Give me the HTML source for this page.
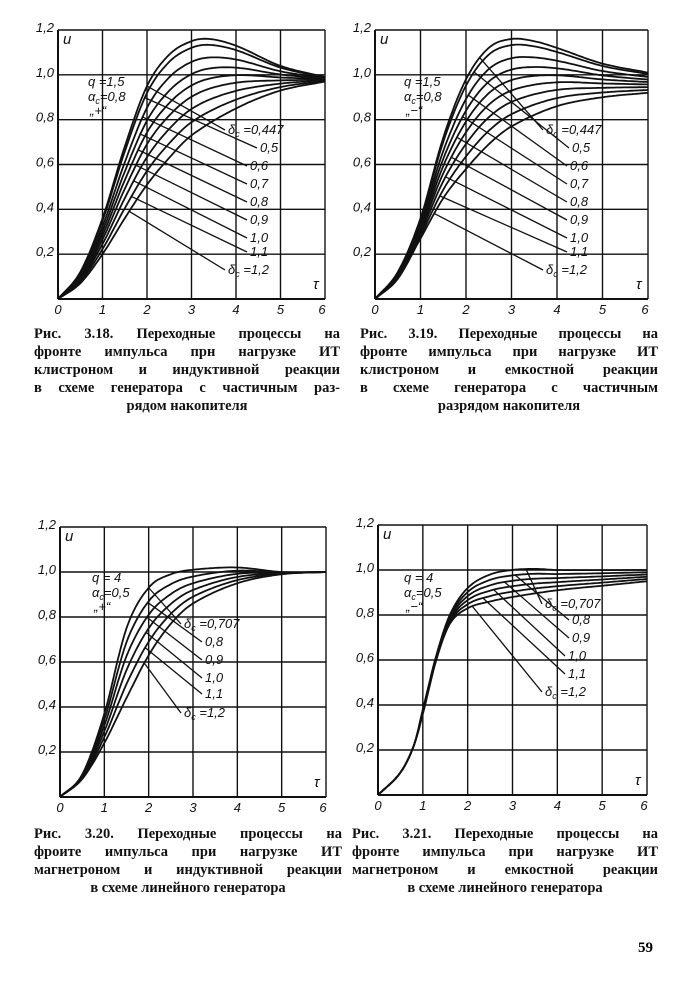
<!DOCTYPE html>
<html><head><meta charset="utf-8"><style>
body{margin:0;background:#fff;width:675px;height:1000px;overflow:hidden;position:relative;font-family:"Liberation Serif",serif;}
.cap{position:absolute;font-size:14.5px;line-height:18px;color:#111;font-weight:bold;}
.cap div{text-align:justify;text-align-last:justify;white-space:nowrap;}
.cap div.l{text-align:center;text-align-last:center;}
svg{position:absolute;left:0;top:0}
</style></head><body>
<svg id="s" width="675" height="1000" viewBox="0 0 675 1000"></svg>
<div class="cap" style="left:34px;top:325px;width:306px"><div>Рис. 3.18. Переходные процессы на</div><div>фронте импульса прн нагрузке ИТ</div><div>клистроном и индуктивной реакции</div><div>в схеме генератора с частичным раз-</div><div class="l">рядом накопителя</div></div>
<div class="cap" style="left:360px;top:325px;width:298px"><div>Рис. 3.19. Переходные процессы на</div><div>фронте импульса при нагрузке ИТ</div><div>клистроном и емкостной реакции</div><div>в схеме генератора с частичным</div><div class="l">разрядом накопителя</div></div>
<div class="cap" style="left:34px;top:825px;width:308px"><div>Рис. 3.20. Переходные процессы на</div><div>фроите импульса при нагрузке ИТ</div><div>магнетроном и индуктивной реакции</div><div class="l">в схеме линейного генератора</div></div>
<div class="cap" style="left:352px;top:825px;width:306px"><div>Рис. 3.21. Переходные процессы на</div><div>фронте импульса при нагрузке ИТ</div><div>магнетроном и емкостной реакции</div><div class="l">в схеме линейного генератора</div></div>
<div style="position:absolute;left:638px;top:940px;font-size:15px;font-weight:bold">59</div>
<script>
function interp(P,t){
 var n=P.length;
 for(var i=0;i<n-1;i++){ if(t<=P[i+1][0]||i==n-2){
  var p0=P[Math.max(i-1,0)],p1=P[i],p2=P[i+1],p3=P[Math.min(i+2,n-1)];
  var s=(t-p1[0])/(p2[0]-p1[0]);
  var m1=(p2[1]-p0[1])/(p2[0]-p0[0])*(p2[0]-p1[0]),m2=(p3[1]-p1[1])/(p3[0]-p1[0])*(p2[0]-p1[0]);
  var s2=s*s,s3=s2*s;
  return (2*s3-3*s2+1)*p1[1]+(s3-2*s2+s)*m1+(-2*s3+3*s2)*p2[1]+(s3-s2)*m2;
 }}
}
var S=document.getElementById('s'),out='';
function chart(c){
 var X=function(t){return c.x0+(c.x6-c.x0)*t/6},Y=function(u){return c.y0-(c.y0-c.y12)*u/1.2};
 var f=function(t,k){var w=c.w[k];return w*interp(c.top,t)+(1-w)*interp(c.bot,t);};
 var g='';
 for(var i=1;i<=6;i++) g+='<line x1="'+X(i)+'" y1="'+Y(0)+'" x2="'+X(i)+'" y2="'+Y(1.2)+'"/>';
 for(var j=1;j<=6;j++) g+='<line x1="'+X(0)+'" y1="'+Y(j*0.2)+'" x2="'+X(6)+'" y2="'+Y(j*0.2)+'"/>';
 out+='<g stroke="#111" stroke-width="1.4">'+g+'<line x1="'+X(0)+'" y1="'+Y(0)+'" x2="'+X(0)+'" y2="'+Y(1.2)+'" stroke-width="2"/><line x1="'+X(0)+'" y1="'+Y(0)+'" x2="'+X(6)+'" y2="'+Y(0)+'" stroke-width="2"/></g>';
 var ty='<g font-family="Liberation Sans,sans-serif" font-style="italic" font-size="13" fill="#111">';
 var yl=['0,2','0,4','0,6','0,8','1,0','1,2'];
 for(j=1;j<=6;j++) ty+='<text x="'+(X(0)-4)+'" y="'+(Y(j*0.2)+2)+'" text-anchor="end">'+yl[j-1]+'</text>';
 for(i=0;i<=6;i++) ty+='<text x="'+(X(i)-(i==6?3:0))+'" y="'+(Y(0)+15)+'" text-anchor="middle">'+i+'</text>';
 ty+='<text x="'+(X(0)+5)+'" y="'+(Y(1.2)+14)+'" font-size="15">u</text>';
 ty+='<text x="'+(X(6)-12)+'" y="'+(Y(0)-10)+'" font-size="15">τ</text>';
 ty+='<text x="'+c.px+'" y="'+c.py+'">q ='+c.q+'</text><text x="'+c.px+'" y="'+(c.py+15)+'">α<tspan font-size="9" dy="3">c</tspan><tspan dy="-3">='+c.a+'</tspan></text><text x="'+(c.px+2)+'" y="'+(c.py+29)+'">„'+c.sg+'“</text>';
 var p='';
 c.ds.forEach(function(d,k){
  var pts=[];
  for(var t=0;t<=6.001;t+=0.05){pts.push(X(t).toFixed(1)+','+Y(f(t,k)).toFixed(1));}
  p+='<polyline points="'+pts.join(' ')+'"/>';
  var ts=c.ts0+(c.ts1-c.ts0)*k/(c.ds.length-1);
  var L=c.lab[k];
  p+='<line x1="'+X(ts)+'" y1="'+Y(f(ts,k))+'" x2="'+(L[0]-3)+'" y2="'+(L[1]-4)+'" stroke-width="1.3"/>';
  var txt=(k==0||k==c.ds.length-1)?'δ<tspan font-size="9" dy="3">c</tspan><tspan dy="-3"> ='+d+'</tspan>':d;
  ty+='<text x="'+L[0]+'" y="'+L[1]+'">'+txt+'</text>';
 });
 out+='<g fill="none" stroke="#111" stroke-width="1.8">'+p+'</g>'+ty+'</g>';
}
var S1=['0,447','0,5','0,6','0,7','0,8','0,9','1,0','1,1','1,2'];
var S3=['0,707','0,8','0,9','1,0','1,1','1,2'];
var W1=[1,.93,.78,.65,.53,.41,.28,.14,0];
var W3=[1,.8,.6,.4,.2,0];
chart({x0:58,x6:325,y0:299,y12:30,w:W1,ds:S1,ts0:2.0,ts1:1.6,px:88,py:86,q:'1,5',a:'0,8',sg:'+',
 top:[[0,0],[0.5,0.12],[1,0.36],[1.5,0.68],[2,0.95],[2.5,1.09],[3,1.15],[3.4,1.16],[4,1.13],[5,1.04],[6,0.99]],
 bot:[[0,0],[0.5,0.07],[1,0.2],[1.5,0.36],[2,0.51],[2.5,0.63],[3,0.73],[4,0.85],[5,0.93],[6,0.97]],
 lab:[[228,134],[260,152],[250,170],[250,188],[250,206],[250,224],[250,242],[250,256],[228,274]]});
chart({x0:375,x6:648,y0:299,y12:30,w:W1,ds:S1,ts0:2.3,ts1:1.3,px:404,py:86,q:'1,5',a:'0,8',sg:'−',
 top:[[0,0],[0.5,0.12],[1,0.36],[1.5,0.72],[2,0.98],[2.5,1.12],[3,1.16],[3.5,1.15],[4,1.12],[5,1.05],[6,1.01]],
 bot:[[0,0],[0.5,0.09],[1,0.27],[1.5,0.45],[2,0.58],[2.5,0.69],[3,0.77],[4,0.86],[5,0.9],[6,0.92]],
 lab:[[546,134],[572,152],[570,170],[570,188],[570,206],[570,224],[570,242],[570,256],[546,274]]});
chart({x0:60,x6:326,y0:797,y12:527,w:W3,ds:S3,ts0:2.0,ts1:1.9,px:92,py:582,q:' 4',a:'0,5',sg:'+',
 top:[[0,0],[0.5,0.1],[1,0.37],[1.5,0.75],[2,0.93],[2.5,0.99],[3,1.01],[4,1.02],[5,1.0],[6,1.0]],
 bot:[[0,0],[0.5,0.08],[1,0.24],[1.5,0.44],[2,0.63],[2.5,0.77],[3,0.86],[4,0.95],[5,0.99],[6,1.0]],
 lab:[[184,628],[205,646],[205,664],[205,682],[205,698],[184,717]]});
chart({x0:378,x6:647,y0:795,y12:525,w:W3,ds:S3,ts0:3.3,ts1:2.1,px:404,py:582,q:' 4',a:'0,5',sg:'−',
 top:[[0,0],[0.5,0.1],[0.8,0.22],[1,0.38],[1.3,0.62],[1.6,0.8],[2,0.92],[2.5,0.98],[3,1.0],[3.5,1.005],[4,1.0],[6,1.0]],
 bot:[[0,0],[0.5,0.1],[0.8,0.22],[1,0.36],[1.3,0.6],[1.6,0.76],[2,0.83],[2.5,0.86],[3,0.88],[4,0.91],[5,0.93],[6,0.95]],
 lab:[[545,608],[572,624],[572,642],[568,660],[568,678],[545,696]]});
S.innerHTML=out;
</script>
</body></html>
